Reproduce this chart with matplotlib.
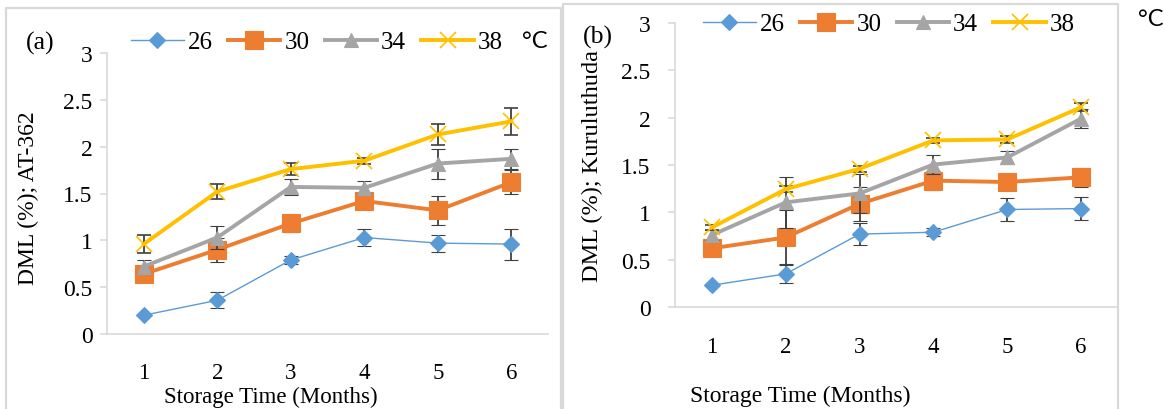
import matplotlib
matplotlib.use('Agg')
import matplotlib.pyplot as plt
from matplotlib.lines import Line2D

# storage time (months)
months = [1, 2, 3, 4, 5, 6]
temps = ['26', '30', '34', '38']

# (a) AT-362
a_26 = [0.20, 0.36, 0.79, 1.03, 0.97, 0.96]
a_30 = [0.64, 0.90, 1.18, 1.42, 1.32, 1.62]
a_34 = [0.72, 1.03, 1.57, 1.56, 1.82, 1.87]
a_38 = [0.96, 1.52, 1.76, 1.85, 2.13, 2.27]
a_26_err = [0.0, 0.085, 0.04, 0.09, 0.09, 0.165]
a_30_err = [0.03, 0.13, 0.09, 0.03, 0.155, 0.13]
a_34_err = [0.07, 0.12, 0.085, 0.07, 0.16, 0.11]
a_38_err = [0.10, 0.08, 0.065, 0.03, 0.115, 0.145]

# (b) Kuruluthuda
b_26 = [0.23, 0.35, 0.77, 0.79, 1.03, 1.04]
b_30 = [0.62, 0.735, 1.09, 1.335, 1.32, 1.37]
b_34 = [0.76, 1.105, 1.20, 1.505, 1.58, 1.99]
b_38 = [0.84, 1.245, 1.46, 1.76, 1.77, 2.11]
b_26_err = [0.01, 0.10, 0.12, 0.04, 0.12, 0.12]
b_30_err = [0.02, 0.29, 0.18, 0.10, 0.02, 0.10]
b_34_err = [0.05, 0.27, 0.21, 0.10, 0.07, 0.10]
b_38_err = [0.03, 0.03, 0.03, 0.03, 0.04, 0.04]

colors = ['#5B9BD5', '#ED7D31', '#A5A5A5', '#FFC000']
markers = ['D', 's', '^', 'x']
msizes = [8.5, 12.5, 10.5, 11]
lwidths = [1.0, 2.8, 2.8, 2.8]

W, H = 1164, 410
serif = 'Liberation Serif'
axis_grey = '#D9D9D9'

fig = plt.figure(figsize=(W / 100, H / 100), dpi=100)


def fx(px):
    return px / W


def fy(py):
    return 1 - py / H


def draw_panel(rect, series, errs, ypad, xpad, leg_center):
    ax = fig.add_axes(rect)
    handles = []
    for i in range(4):
        cont = ax.errorbar(months, series[i], yerr=errs[i], color=colors[i],
                           lw=lwidths[i], marker=markers[i], ms=msizes[i],
                           mec=colors[i], mew=1.2 if markers[i] == 'x' else 0.8,
                           ecolor='#404040', elinewidth=1.3, capsize=4.8,
                           capthick=1.3, zorder=3 + i)
        handles.append(cont.lines[0])
    ax.set_xlim(0.5, 6.5)
    ax.set_ylim(0, 3)
    ax.set_xticks(months)
    ax.set_yticks([0, 0.5, 1, 1.5, 2, 2.5, 3])
    ax.set_yticklabels(['0', '0.5', '1', '1.5', '2', '2.5', '3'])
    for s in ['top', 'right']:
        ax.spines[s].set_visible(False)
    for s in ['left', 'bottom']:
        ax.spines[s].set_color(axis_grey)
        ax.spines[s].set_linewidth(1.2)
    ax.tick_params(axis='x', length=0, pad=xpad, labelsize=16.5)
    ax.tick_params(axis='y', length=5, width=1.2, color=axis_grey,
                   pad=ypad, labelsize=17)
    for lab in ax.get_xticklabels() + ax.get_yticklabels():
        lab.set_fontfamily(serif)
    ax.legend(handles, temps, loc='center', ncol=4, frameon=False,
              bbox_to_anchor=leg_center, bbox_transform=fig.transFigure,
              prop={'family': serif, 'size': 18}, handlelength=2.1,
              handletextpad=0.17, columnspacing=0.6, borderaxespad=0)
    return ax


ax_a = draw_panel([fx(107), fy(335), fx(441), 281 / H],
                  [a_26, a_30, a_34, a_38],
                  [a_26_err, a_30_err, a_34_err, a_38_err],
                  5.5, 20, (fx(317), fy(43)))
ax_b = draw_panel([fx(675), fy(308), fx(443), 284 / H],
                  [b_26, b_30, b_34, b_38],
                  [b_26_err, b_30_err, b_34_err, b_38_err],
                  12.5, 21, (fx(889), fy(25)))

# panel texts
fig.text(fx(271), fy(397), 'Storage Time (Months)', family=serif, size=16.5,
         ha='center', va='center')
fig.text(fx(800), fy(396), 'Storage Time (Months)', family=serif, size=17,
         ha='center', va='center')
fig.text(fx(28), fy(198), 'DML (%); AT-362', family=serif, size=17,
         rotation=90, ha='center', va='center')
fig.text(fx(592), fy(166), 'DML (%); Kuruluthuda', family=serif, size=17.5,
         rotation=90, ha='center', va='center')
fig.text(fx(40), fy(43), '(a)', family=serif, size=18.5, ha='center', va='center')
fig.text(fx(598), fy(37), '(b)', family=serif, size=18.5, ha='center', va='center')
fig.text(fx(535), fy(41), '°C', family='Lato', size=17, ha='center', va='center')
fig.text(fx(1151), fy(20), '°C', family='Lato', size=17, ha='center', va='center')

# panel frames
for left, top, right in [(6, 9, 561), (563, 5, 1118)]:
    xs = [fx(left), fx(left), fx(right), fx(right)]
    ys = [0, fy(top), fy(top), 0]
    fig.add_artist(Line2D(xs, ys, color=axis_grey, lw=1.6,
                          transform=fig.transFigure))

fig.savefig('out.png', dpi=100)
